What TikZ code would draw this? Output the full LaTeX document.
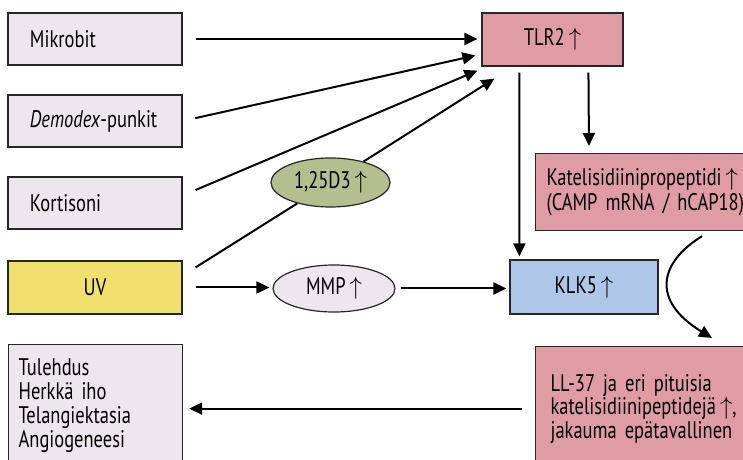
\documentclass[tikz,border=0pt]{standalone}
\usepackage{fontspec}
\setmainfont[FakeStretch=0.77]{PT Sans}
\usetikzlibrary{arrows.meta,shapes.geometric}
\definecolor{lila}{HTML}{EEE6EE}
\definecolor{roosa}{HTML}{E09CA5}
\definecolor{sini}{HTML}{AEC6E8}
\definecolor{kelta}{HTML}{F2E06E}
\definecolor{oliivi}{HTML}{B5BE8E}
\newcommand{\ylos}{\,$\uparrow$}
\newcommand{\kirjain}{\fontsize{24bp}{24bp}\selectfont\fontdimen2\font=3.6bp\relax}
\begin{document}
\begin{tikzpicture}[x=1bp,y=-1bp,font=\kirjain,
  box/.style={draw=black!85,line width=1.2bp,minimum height=52bp},
  vasen/.style={box,fill=lila,text width=130bp,inner xsep=22bp,align=left},
  solu/.style={draw=black!85,line width=1.2bp,ellipse,inner sep=0pt},
  arr/.style={line width=2bp,-{Triangle[length=13bp,width=12bp]}}]
\path[use as bounding box,clip] (0,0) rectangle (743,460);
% lähtökohdat vasemmalla
\node[vasen] (mikrobit) at (95,39) {Mikrobit};
\node[vasen] (demodex) at (95,121) {\textit{Demodex}-punkit};
\node[vasen] (kortisoni) at (95,203) {Kortisoni};
\node[box,fill=kelta,minimum width=174bp,minimum height=53bp] (uv) at (95,287.5) {UV};
\node[box,fill=lila,anchor=north west,text width=154bp,inner xsep=10bp,align=left,minimum height=122bp]
  (tulehdus) at (8,344) {Tulehdus\\Herkkä iho\\Telangiektasia\\Angiogeneesi};
% oikea puoli
\node[box,fill=roosa,minimum width=141bp,minimum height=53bp] (tlr2) at (552.5,39.5) {TLR2\ylos};
\node[box,fill=roosa,anchor=north west,text width=204bp,inner xsep=11bp,align=left,minimum height=77bp,
  font={\kirjain\baselineskip=25bp}] (katel) at (535,153) {Katelisidiinipropeptidi\ylos\\(CAMP mRNA / hCAP18)};
\node[box,fill=sini,minimum width=148bp,minimum height=54bp] (klk5) at (584,287) {KLK5\ylos};
\node[box,fill=roosa,anchor=north west,text width=204bp,inner xsep=15bp,align=left,minimum height=124bp,
  font={\kirjain\baselineskip=23.5bp}] (ll37) at (535,346) {LL-37 ja eri pituisia\\katelisidiinipeptidejä\ylos,\\jakauma epätavallinen};
% nuolet
\draw[arr,shorten <=13bp,shorten >=4bp] (mikrobit.east) -- (mikrobit.east -| tlr2.west);
\draw[arr,shorten <=13bp] (demodex.east) -- ([shift={(-6,16)}]tlr2.west);
\draw[arr] ([shift={(13,-13)}]kortisoni.east) -- ([shift={(-4,4)}]tlr2.south west);
\node[solu,fill=oliivi,minimum width=119bp,minimum height=49bp] (d3) at (330.5,182.5) {1,25D3\ylos};
\draw[line width=2bp] ([shift={(13,7)}]uv.north east) -- (d3);
\draw[arr] (d3) -- ([shift={(13,12)}]tlr2.south west);
\node[solu,fill=lila,minimum width=122bp,minimum height=47bp] (mmp) at (334,288.5) {MMP\ylos};
\draw[arr,shorten <=13bp,shorten >=3bp] (uv.east) -- (uv.east -| mmp.west);
\draw[arr,shorten <=5bp,shorten >=3bp] (mmp.east) -- (mmp.east -| klk5.west);
\draw[arr,shorten <=6bp,shorten >=3bp] ([xshift=38bp]tlr2.south west) -- ([xshift=10bp]klk5.north west);
\draw[arr,shorten <=6bp,shorten >=7bp] ([xshift=107bp]tlr2.south west) -- ([xshift=54bp]katel.north west);
\draw[arr] ([shift={(167,5)}]katel.south west) .. controls (660,262) and (650,300) .. ([shift={(177,-8)}]ll37.north west);
\draw[arr,shorten <=13bp,shorten >=6bp] (ll37.west) -- (ll37.west -| tulehdus.east);
\end{tikzpicture}
\end{document}
